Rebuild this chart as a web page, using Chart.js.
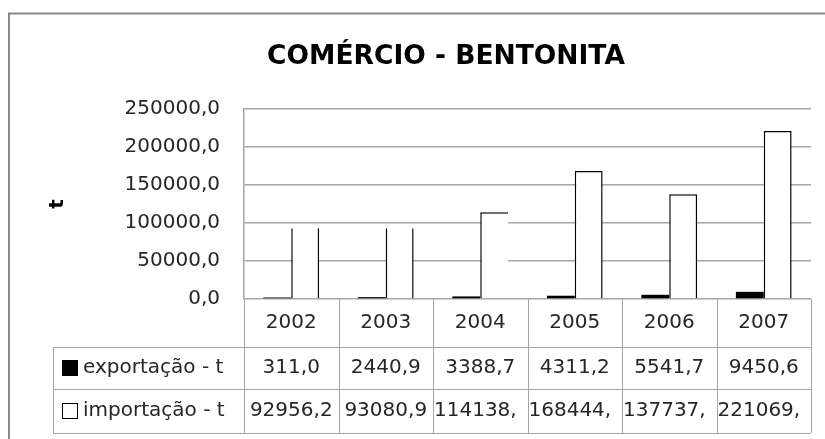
<!DOCTYPE html>
<html lang="pt">
<head>
<meta charset="UTF-8">
<title>Comércio - Bentonita</title>
<script src="https://cdn.jsdelivr.net/npm/chart.js"></script>
<style>
  html, body { margin: 0; padding: 0; background: #fff; }
</style>
</head>
<body>
<canvas id="grafico" width="825" height="439"></canvas>
<script>
const anos = ['2002', '2003', '2004', '2005', '2006', '2007'];
const exportacao = [311.0, 2440.9, 3388.7, 4311.2, 5541.7, 9450.6];
const importacao = [92956.2, 93080.9, 114138.0, 168444.0, 137737.0, 221069.0];
const yTicks = [0, 50000, 100000, 150000, 200000, 250000];

const titulo = 'COMÉRCIO - BENTONITA';
const fmt = v => v.toFixed(1).replace('.', ',');
const FONTE = 'DejaVu Sans';
const GRADE = '#a6a6a6';
const TEXTO = '#262626';

// moldura cinza + título (centrado na moldura, não na área do gráfico)
const moldura = {
    id: 'moldura',
    beforeDraw(chart) {
        const ctx = chart.ctx;
        ctx.save();
        ctx.strokeStyle = '#878787';
        ctx.lineWidth = 2;
        ctx.strokeRect(9, 13.5, 1000, 1000);
        ctx.font = 'bold 26.5px "' + FONTE + '"';
        ctx.fillStyle = '#000';
        ctx.textAlign = 'center';
        ctx.textBaseline = 'alphabetic';
        ctx.fillText(titulo, 446, 64);
        ctx.restore();
    }
};

// tabela de dados por baixo do eixo, como no Excel
const tabela = {
    id: 'tabela',
    afterDraw(chart) {
        const { ctx, chartArea: a, scales: { x } } = chart;
        const n = anos.length;
        const w = a.width / n;
        const rows = [a.bottom, a.bottom + 48, a.bottom + 90, a.bottom + 134];
        const esq = 53;

        ctx.save();
        ctx.strokeStyle = GRADE;
        ctx.lineWidth = 1;
        ctx.beginPath();
        for (let i = 0; i <= n; i++) {
            const xx = Math.round(a.left + i * w) + 0.5;
            ctx.moveTo(xx, rows[0]);
            ctx.lineTo(xx, rows[3]);
        }
        ctx.moveTo(esq + 0.5, rows[1]);
        ctx.lineTo(esq + 0.5, rows[3]);
        for (let r = 1; r <= 3; r++) {
            const yy = Math.round(rows[r]) + 0.5;
            ctx.moveTo(esq, yy);
            ctx.lineTo(a.right, yy);
        }
        ctx.stroke();

        ctx.font = '20px "' + FONTE + '"';
        ctx.fillStyle = TEXTO;
        ctx.textBaseline = 'middle';

        const celula = (txt, i, y0, y1) => {
            const l = a.left + i * w;
            const ym = (y0 + y1) / 2;
            if (ctx.measureText(txt).width <= w - 4) {
                ctx.textAlign = 'center';
                ctx.fillText(txt, x.getPixelForValue(i), ym);
                return;
            }
            // não cabe: o Excel corta os caracteres que sobram
            while (txt.length > 1 && ctx.measureText(txt).width > w - 2) txt = txt.slice(0, -1);
            ctx.textAlign = 'left';
            ctx.fillText(txt, l + 1, ym);
        };

        anos.forEach((ano, i) => celula(ano, i, rows[0], rows[1]));
        exportacao.forEach((v, i) => celula(fmt(v), i, rows[1], rows[2]));
        importacao.forEach((v, i) => celula(fmt(v), i, rows[2], rows[3]));

        // chaves da legenda
        const ds = chart.data.datasets;
        ctx.textAlign = 'left';
        [1, 2].forEach(r => {
            const ym = (rows[r] + rows[r + 1]) / 2;
            if (r === 1) {
                ctx.fillStyle = '#000';
                ctx.fillRect(62, ym - 8, 16, 16);
            } else {
                ctx.strokeStyle = '#000';
                ctx.lineWidth = 1;
                ctx.strokeRect(62.5, ym - 7.5, 15, 15);
            }
            ctx.fillStyle = TEXTO;
            ctx.fillText(ds[r - 1].label, 83, ym);
        });
        ctx.restore();
    }
};

// algumas barras de importação saíram sem topo / lado direito no original
const bordaImport = c => {
    if (c.dataIndex < 2) return { top: 0, right: 1.5, bottom: 0, left: 1.5 };
    if (c.dataIndex === 2) return { top: 1.5, right: 0, bottom: 0, left: 1.5 };
    return { top: 1.5, right: 1.5, bottom: 0, left: 1.5 };
};

new Chart(document.getElementById('grafico'), {
    type: 'bar',
    data: {
        labels: anos,
        datasets: [
            {
                label: 'exportação - t',
                data: exportacao,
                backgroundColor: '#000',
                borderWidth: 0,
                minBarLength: 1.5
            },
            {
                label: 'importação - t',
                data: importacao,
                backgroundColor: '#fff',
                borderColor: '#000',
                borderWidth: bordaImport,
                borderSkipped: false
            }
        ]
    },
    options: {
        responsive: false,
        animation: false,
        devicePixelRatio: 1,
        categoryPercentage: 0.59,
        barPercentage: 1.0,
        layout: { padding: { left: 40, right: 14, top: 109, bottom: 140 } },
        plugins: {
            legend: { display: false },
            tooltip: { enabled: false },
            title: { display: false }
        },
        scales: {
            x: { display: false, offset: true },
            y: {
                min: 0,
                max: 250000,
                afterBuildTicks: s => { s.ticks = yTicks.map(v => ({ value: v })); },
                afterFit: s => { s.width = 204; },
                ticks: {
                    padding: 24,
                    color: TEXTO,
                    font: { family: FONTE, size: 20 },
                    callback: v => fmt(v)
                },
                grid: { color: GRADE, lineWidth: 1.5, drawTicks: false },
                border: { display: true, color: GRADE, width: 1.5 },
                title: {
                    display: true,
                    text: 't',
                    color: '#000',
                    font: { family: FONTE, size: 20, weight: 'bold' },
                    padding: { top: 6, bottom: 0 }
                }
            }
        }
    },
    plugins: [moldura, tabela]
});
</script>
</body>
</html>
